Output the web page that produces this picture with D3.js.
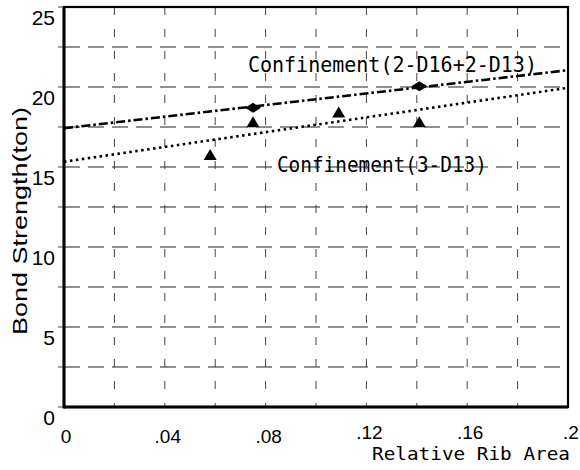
<!DOCTYPE html>
<html>
<head>
<meta charset="utf-8">
<script src="https://cdn.jsdelivr.net/npm/d3@7"></script>
<style>
html,body{margin:0;padding:0;background:#fff;}
svg{display:block;}
</style>
</head>
<body>
<svg id="chart" width="580" height="470"></svg>
<script>
// ---- data ----
const xTickValues = [0, 0.04, 0.08, 0.12, 0.16, 0.2];
const xTickLabels = ["0", ".04", ".08", ".12", ".16", ".2"];
const yTickValues = [0, 5, 10, 15, 20, 25];
const yTickLabels = ["0", "5", "10", "15", "20", "25"];
const xGrid = [0.02, 0.04, 0.06, 0.08, 0.10, 0.12, 0.14, 0.16, 0.18];
const yGrid = [2.5, 5, 7.5, 10, 12.5, 15, 17.5, 20, 22.5];

const seriesNames = ["Confinement(2-D16+2-D13)", "Confinement(3-D13)"];
// measured points
const d16X = [0.075, 0.141];
const d16Y = [18.7, 20.05];
const d13X = [0.058, 0.075, 0.109, 0.141];
const d13Y = [15.75, 17.8, 18.4, 17.8];
// regression lines
const fitD16X = [0, 0.2];
const fitD16Y = [17.42, 21.05];
const fitD13X = [0, 0.2];
const fitD13Y = [15.33, 19.95];

const xTitle = "Relative Rib Area";
const yTitle = "Bond Strength(ton)";

// ---- drawing ----
const svg = d3.select("#chart");
const L = 64, R = 568, T = 7, B = 407;
const x = d3.scaleLinear().domain([0, 0.2]).range([L, R]);
const y = d3.scaleLinear().domain([0, 25]).range([B, T]);

// grid
const g = svg.append("g");
g.selectAll("line.hg").data(yGrid).join("line")
  .attr("x1", L).attr("x2", R)
  .attr("y1", d => y(d)).attr("y2", d => y(d))
  .attr("stroke", "#222").attr("stroke-width", 1.1)
  .attr("stroke-dasharray", "16,8");
g.selectAll("line.vg").data(xGrid).join("line")
  .attr("x1", d => x(d)).attr("x2", d => x(d))
  .attr("y1", T).attr("y2", B)
  .attr("stroke", "#444").attr("stroke-width", 1)
  .attr("stroke-dasharray", "8,14");

// small outer ticks on y
g.selectAll("line.yt").data(yGrid.concat([0, 25])).join("line")
  .attr("x1", L - 6).attr("x2", L)
  .attr("y1", d => y(d)).attr("y2", d => y(d))
  .attr("stroke", "#444").attr("stroke-width", 1);

// fit lines
const line = d3.line().x(d => x(d[0])).y(d => y(d[1]));
svg.append("path")
  .datum(fitD16X.map((v, i) => [v, fitD16Y[i]]))
  .attr("d", line).attr("fill", "none")
  .attr("stroke", "#000").attr("stroke-width", 2.6)
  .attr("stroke-dasharray", "9,3,2.5,3");
svg.append("path")
  .datum(fitD13X.map((v, i) => [v, fitD13Y[i]]))
  .attr("d", line).attr("fill", "none")
  .attr("stroke", "#000").attr("stroke-width", 2.6)
  .attr("stroke-dasharray", "2.5,3.5");

// markers
svg.selectAll("path.dia").data(d16X.map((v, i) => [v, d16Y[i]])).join("path")
  .attr("transform", d => `translate(${x(d[0])},${y(d[1])})`)
  .attr("d", "M-8,0 L0,-5 L8,0 L0,5 Z")
  .attr("fill", "#000");
svg.selectAll("path.tri").data(d13X.map((v, i) => [v, d13Y[i]])).join("path")
  .attr("transform", d => `translate(${x(d[0])},${y(d[1])})`)
  .attr("d", "M0,-6 L6.5,5 L-6.5,5 Z")
  .attr("fill", "#000");

// series labels
svg.append("text")
  .attr("x", x(0.073)).attr("y", y(20.94))
  .attr("font-family", "'DejaVu Sans Mono', monospace")
  .attr("font-size", 22).attr("textLength", 289).attr("lengthAdjust", "spacingAndGlyphs")
  .attr("fill", "#000").text(seriesNames[0]);
svg.append("text")
  .attr("x", x(0.0845)).attr("y", y(14.69))
  .attr("font-family", "'DejaVu Sans Mono', monospace")
  .attr("font-size", 22).attr("textLength", 210).attr("lengthAdjust", "spacingAndGlyphs")
  .attr("fill", "#000").text(seriesNames[1]);

// frame
svg.append("rect").attr("x", L).attr("y", T).attr("width", R - L).attr("height", B - T)
  .attr("fill", "none").attr("stroke", "#000").attr("stroke-width", 2.2);
svg.append("line").attr("x1", L).attr("x2", L).attr("y1", T).attr("y2", B + 1.5)
  .attr("stroke", "#000").attr("stroke-width", 3);
svg.append("line").attr("x1", L).attr("x2", R).attr("y1", B).attr("y2", B)
  .attr("stroke", "#000").attr("stroke-width", 3);

// y tick labels
svg.selectAll("text.yl").data(yTickValues).join("text")
  .attr("x", 55).attr("y", d => y(d) + 18)
  .attr("text-anchor", "end")
  .attr("font-family", "'Liberation Sans', Arial, sans-serif")
  .attr("font-size", 21).attr("fill", "#000")
  .text((d, i) => yTickLabels[i]);

// x tick labels
svg.selectAll("text.xl").data(xTickValues).join("text")
  .attr("x", (d, i) => x(d) + (i === 0 ? 2 : 3)).attr("y", (d, i) => i < 3 ? 443 : 439)
  .attr("text-anchor", "middle")
  .attr("font-family", "'Liberation Sans', Arial, sans-serif")
  .attr("font-size", 19).attr("fill", "#000")
  .text((d, i) => xTickLabels[i]);

// axis titles
svg.append("text")
  .attr("x", 372).attr("y", 460)
  .attr("font-family", "'DejaVu Sans Mono', monospace")
  .attr("font-size", 18).attr("textLength", 198).attr("lengthAdjust", "spacingAndGlyphs")
  .attr("fill", "#000").text(xTitle);
svg.append("text")
  .attr("transform", "translate(27,221) rotate(-90)")
  .attr("text-anchor", "middle")
  .attr("font-family", "'Liberation Sans', Arial, sans-serif")
  .attr("font-size", 20).attr("textLength", 228).attr("lengthAdjust", "spacingAndGlyphs")
  .attr("fill", "#000").text(yTitle);
</script>
</body>
</html>
